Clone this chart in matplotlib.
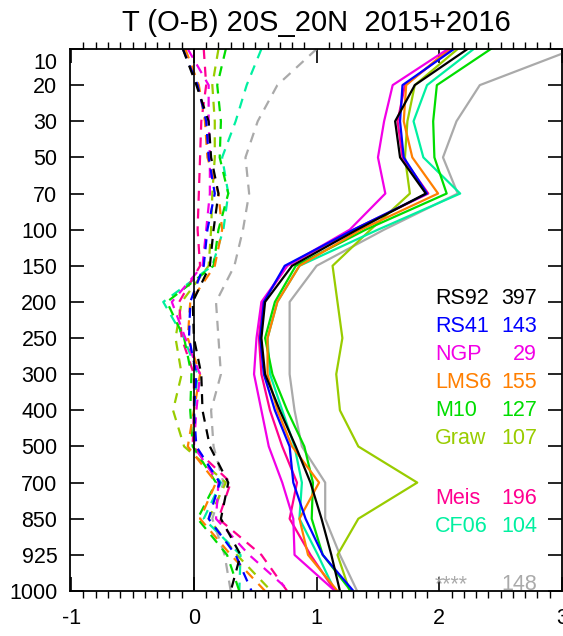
import matplotlib
matplotlib.use("Agg")
import matplotlib.pyplot as plt
from matplotlib.transforms import ScaledTranslation
import numpy as np

plt.rcParams['font.family'] = ['Liberation Sans', 'DejaVu Sans']

# pressure levels (hPa), plotted on an even index axis
levels = ['10', '20', '30', '50', '70', '100', '150', '200', '250',
          '300', '400', '500', '700', '850', '925', '1000']

# sonde types, number of profiles, line colours
names = ['RS92', 'RS41', 'NGP', 'LMS6', 'M10', 'Graw', 'Meis', 'CF06', '****']
counts = [397, 143, 29, 155, 127, 107, 196, 104, 148]
colors = ['#000000', '#0000ff', '#f200e6', '#ff7f00', '#00dd00',
          '#99cc00', '#ff0090', '#00f0a0', '#aaaaaa']

# standard deviation of O-B (K), solid lines
std_rs92 = [2.23, 1.80, 1.64, 1.68, 1.89, 1.33, 0.80, 0.58, 0.55, 0.58, 0.70, 0.83, 0.95, 1.04, 1.12, 1.19]
std_rs41 = [2.12, 1.70, 1.68, 1.71, 1.90, 1.30, 0.74, 0.57, 0.54, 0.57, 0.66, 0.78, 0.81, 0.91, 1.05, 1.30]
std_ngp = [2.07, 1.62, 1.55, 1.50, 1.56, 1.27, 0.76, 0.55, 0.51, 0.49, 0.55, 0.61, 0.72, 0.81, 0.82, 1.15]
std_lms6 = [2.08, 1.73, 1.71, 1.78, 1.99, 1.36, 0.86, 0.68, 0.60, 0.60, 0.68, 0.80, 1.02, 0.86, 0.93, 1.17]
std_m10 = [2.42, 1.98, 1.95, 1.96, 2.06, 1.40, 0.83, 0.66, 0.58, 0.64, 0.76, 0.90, 0.97, 0.96, 1.05, 1.28]
std_graw = [2.15, 1.80, 1.74, 1.72, 1.76, 1.44, 1.13, 1.17, 1.21, 1.16, 1.19, 1.34, 1.82, 1.34, 1.17, 1.27]
std_meis = [2.10, 1.72, 1.66, 1.70, 1.91, 1.30, 0.76, 0.56, 0.53, 0.55, 0.62, 0.72, 0.84, 0.78, 0.95, 1.15]
std_cf06 = [2.28, 1.90, 1.79, 1.87, 2.17, 1.50, 0.86, 0.68, 0.60, 0.62, 0.72, 0.82, 0.88, 0.86, 1.01, 1.15]
std_other = [3.10, 2.33, 2.14, 2.03, 2.15, 1.55, 1.00, 0.78, 0.78, 0.78, 0.82, 0.88, 1.07, 1.07, 1.19, 1.33]

# mean O-B (K), dashed lines
mean_rs92 = [-0.09, 0.02, 0.12, 0.14, 0.20, 0.16, 0.13, -0.01, 0.00, 0.06, 0.07, 0.13, 0.28, 0.22, 0.38, 0.30]
mean_rs41 = [-0.09, 0.03, 0.10, 0.12, 0.17, 0.11, 0.08, -0.03, -0.04, 0.02, 0.00, 0.02, 0.21, 0.12, 0.34, 0.47]
mean_ngp = [-0.05, 0.12, 0.12, 0.13, 0.13, 0.10, 0.07, -0.18, -0.07, 0.05, 0.02, 0.00, 0.20, 0.18, 0.45, 0.78]
mean_lms6 = [-0.07, 0.04, 0.09, 0.11, 0.20, 0.23, 0.17, -0.03, -0.05, 0.05, 0.00, -0.05, 0.18, 0.05, 0.30, 0.58]
mean_m10 = [0.26, 0.19, 0.22, 0.21, 0.28, 0.20, 0.16, -0.22, -0.08, -0.02, -0.03, -0.01, 0.18, 0.03, 0.27, 0.37]
mean_graw = [0.20, 0.15, 0.17, 0.17, 0.15, 0.14, 0.12, -0.10, -0.15, -0.10, -0.17, -0.08, 0.26, 0.12, 0.35, 0.63]
mean_meis = [0.08, 0.10, 0.06, 0.05, 0.04, 0.03, 0.05, -0.12, -0.10, 0.00, 0.00, -0.01, 0.30, 0.20, 0.55, 0.76]
mean_cf06 = [0.55, 0.43, 0.34, 0.23, 0.28, 0.24, 0.15, -0.25, -0.08, 0.03, 0.00, 0.00, 0.22, 0.08, 0.38, 0.37]
mean_other = [1.00, 0.68, 0.52, 0.42, 0.45, 0.40, 0.33, 0.18, 0.20, 0.22, 0.14, 0.16, 0.24, 0.15, 0.25, 0.30]

std_all = [std_rs92, std_rs41, std_ngp, std_lms6, std_m10, std_graw, std_meis, std_cf06, std_other]
mean_all = [mean_rs92, mean_rs41, mean_ngp, mean_lms6, mean_m10, mean_graw, mean_meis, mean_cf06, mean_other]

fig = plt.figure(figsize=(5.63, 6.36), dpi=100)
ax = fig.add_axes([70 / 563, 45 / 636, 492 / 563, 542 / 636])

y = np.arange(len(levels))

# draw grey first and black last so the reference sonde sits on top
order = [8, 5, 7, 6, 4, 3, 2, 1, 0]
for k in order:
    ax.plot(mean_all[k], y, color=colors[k], lw=1.6, dashes=(4.5, 3.5))
for k in order:
    ax.plot(std_all[k], y, color=colors[k], lw=1.6)

ax.axvline(0, color='black', lw=1.2)

ax.set_xlim(-1.01, 3.0)
ax.set_ylim(len(levels) - 1, 0)
ax.set_yticks(y)
ax.set_yticklabels(levels)
ax.set_xticks([-1, 0, 1, 2, 3])
ax.set_xticklabels(['-1', '0', '1', '2', '3'])
ax.set_xticks(np.arange(-1, 3.01, 0.1), minor=True)

ax.tick_params(axis='both', direction='in', labelsize=15.5, width=1.2, color='black')
ax.tick_params(axis='x', which='major', length=10, top=True, pad=12)
ax.tick_params(axis='x', which='minor', length=5, top=True, width=1.0)
ax.tick_params(axis='y', which='major', length=10, right=True, pad=9)
for s in ax.spines.values():
    s.set_linewidth(1.3)

# keep the top label clear of the frame corner
lab = ax.get_yticklabels()[0]
lab.set_transform(lab.get_transform() + ScaledTranslation(0, -12 / 100, fig.dpi_scale_trans))

fig.text(316 / 563, 1 - 23 / 636, 'T (O-B) 20S_20N  2015+2016',
         ha='center', va='center', fontsize=21)

# sonde labels with profile counts
label_rows = [295, 323, 351, 379, 407, 435, 495, 523, 581]
for k in range(len(names)):
    yy = 1 - (label_rows[k] - 45) / 542
    ax.text((435 - 70) / 492, yy, names[k], transform=ax.transAxes,
            color=colors[k], fontsize=15.5, ha='left', va='center')
    ax.text((537 - 70) / 492, yy, str(counts[k]), transform=ax.transAxes,
            color=colors[k], fontsize=15.5, ha='right', va='center')

fig.savefig('out.png', dpi=100)
